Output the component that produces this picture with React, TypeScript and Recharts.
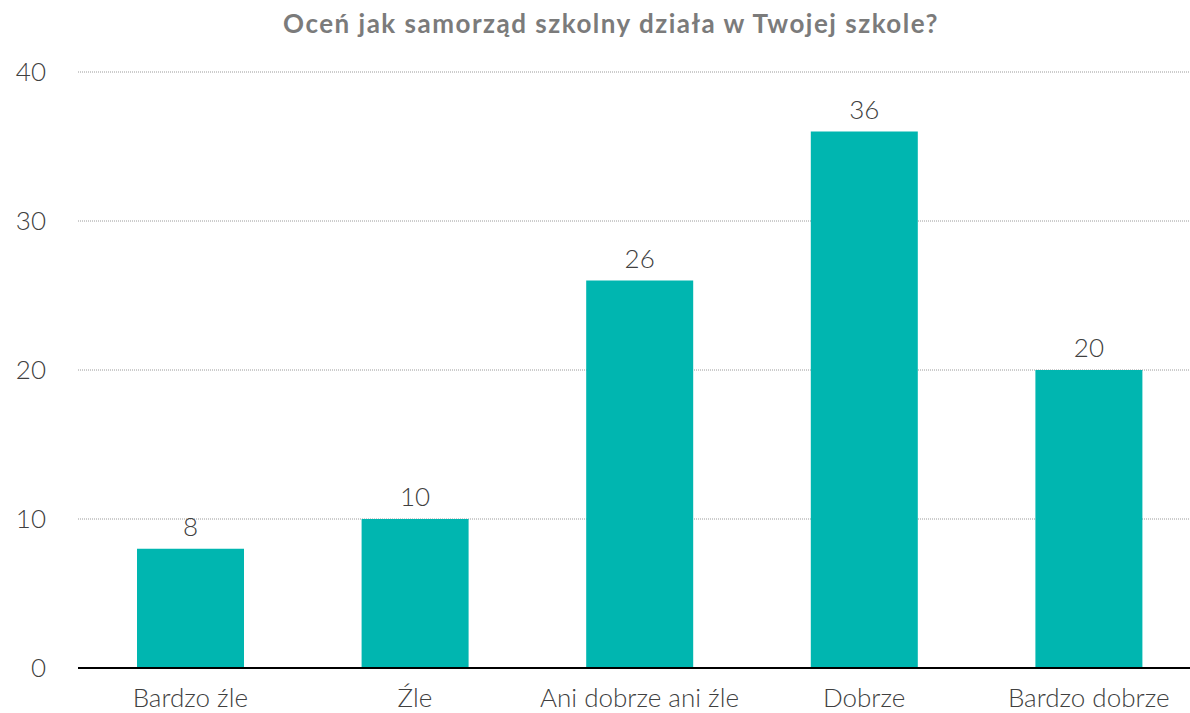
import React from 'react';
import { BarChart, Bar, XAxis, YAxis, CartesianGrid, LabelList } from 'recharts';

const categories = ['Bardzo źle', 'Źle', 'Ani dobrze ani źle', 'Dobrze', 'Bardzo dobrze'];
const values = [8, 10, 26, 36, 20];
const yTicks = [0, 10, 20, 30, 40];
const title = 'Oceń jak samorząd szkolny działa w Twojej szkole?';

const data = categories.map((c, i) => ({ name: c, value: values[i] }));

const FONT = 'Lato, "Open Sans", sans-serif';

export default function App() {
  return (
    <div style={{ position: 'fixed', left: 0, top: 0, width: 1190, height: 713, overflow: 'hidden', background: '#fff' }}>
      <div
        style={{
          position: 'absolute',
          left: 0,
          top: 10,
          width: 1222,
          textAlign: 'center',
          fontFamily: FONT,
          fontSize: 26,
          lineHeight: 1,
          fontWeight: 700,
          letterSpacing: 1.5,
          color: '#7b7b7b',
          whiteSpace: 'nowrap',
        }}
      >
        {title}
      </div>
      <div style={{ position: 'absolute', left: 0, top: 0 }}>
        <BarChart
          width={1201}
          height={713}
          data={data}
          margin={{ top: 72, right: 0, bottom: 0, left: 0 }}
          barSize={107}
        >
          <CartesianGrid vertical={false} stroke="#9a9a9a" strokeDasharray="1 1" />
          <XAxis
            dataKey="name"
            height={45}
            tickLine={false}
            tickSize={0}
            tickMargin={21}
            axisLine={{ stroke: '#000', strokeWidth: 2 }}
            tick={{ fill: '#404040', fontSize: 26, fontFamily: FONT, fontWeight: 300 }}
            interval={0}
          />
          <YAxis
            width={78}
            domain={[0, 40]}
            ticks={yTicks}
            axisLine={false}
            tickLine={false}
            tickSize={0}
            tickMargin={32}
            tick={{ fill: '#404040', fontSize: 26, fontFamily: FONT, fontWeight: 300 }}
          />
          <Bar dataKey="value" fill="#00B6B0" isAnimationActive={false}>
            <LabelList
              dataKey="value"
              position="top"
              offset={13}
              fill="#404040"
              fontSize={26}
              fontFamily={FONT}
              fontWeight={300}
            />
          </Bar>
        </BarChart>
      </div>
    </div>
  );
}
